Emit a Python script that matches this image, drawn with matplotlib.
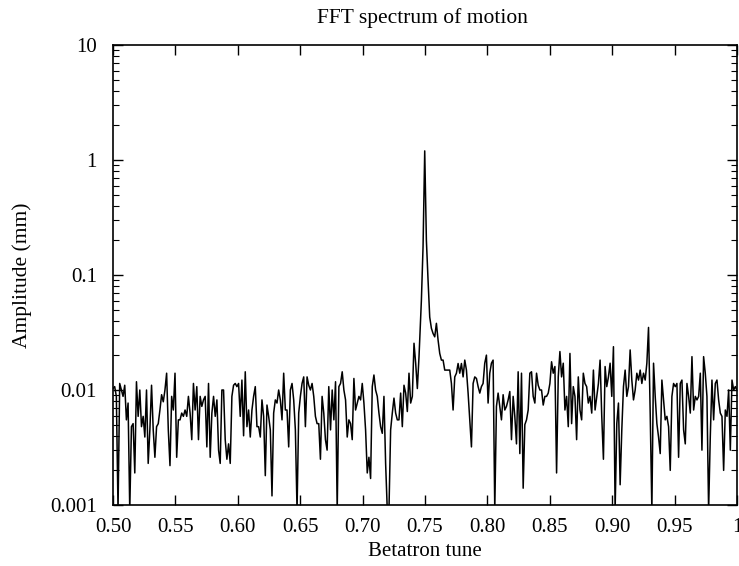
import numpy as np
import matplotlib
matplotlib.use("Agg")
import matplotlib.pyplot as plt
from matplotlib.ticker import FixedLocator, LogLocator, NullFormatter

plt.rcParams['font.family'] = ['Liberation Serif', 'DejaVu Serif']

# Spectrum in seven consecutive stretches of tune.
# (start tune, end tune) of each stretch; values are evenly spaced inside it.
seg_bounds = [(0.5000, 0.5846), (0.5859, 0.6729), (0.6743, 0.7452), (0.7471, 0.7939),
              (0.7952, 0.8822), (0.8836, 0.9706), (0.9719, 1.0000)]

amp_1 = [0.0103, 0.0107, 0.0088, 0.0009, 0.0114, 0.0100, 0.0088, 0.0110, 0.0055, 0.0077,
         0.0009, 0.0048, 0.0051, 0.0019, 0.0118, 0.0059, 0.0100, 0.0048, 0.0059, 0.0039,
         0.0100, 0.0023, 0.0045, 0.0110, 0.0045, 0.0026, 0.0048, 0.0051, 0.0067, 0.0091,
         0.0079, 0.0100, 0.0140, 0.0045, 0.0022, 0.0088, 0.0067, 0.0140, 0.0026, 0.0055,
         0.0055, 0.0063, 0.0059, 0.0067, 0.0059, 0.0088, 0.0063, 0.0037, 0.0114, 0.0067,
         0.0107, 0.0037, 0.0088, 0.0072, 0.0082, 0.0088, 0.0032, 0.0114, 0.0026, 0.0063,
         0.0088, 0.0059, 0.0082, 0.0030]
amp_2 = [0.0023, 0.0100, 0.0100, 0.0037, 0.0025, 0.0034, 0.0023, 0.0088, 0.0110, 0.0114,
         0.0107, 0.0114, 0.0059, 0.0122, 0.0040, 0.0144, 0.0048, 0.0067, 0.0039, 0.0067,
         0.0088, 0.0107, 0.0048, 0.0048, 0.0039, 0.0082, 0.0059, 0.0018, 0.0074, 0.0059,
         0.0045, 0.0012, 0.0063, 0.0082, 0.0077, 0.0100, 0.0082, 0.0055, 0.0140, 0.0067,
         0.0067, 0.0032, 0.0100, 0.0114, 0.0082, 0.0045, 0.0009, 0.0063, 0.0088, 0.0114,
         0.0130, 0.0048, 0.0130, 0.0110, 0.0100, 0.0114, 0.0088, 0.0059, 0.0051, 0.0051,
         0.0025, 0.0088, 0.0063, 0.0037, 0.0030, 0.0107]
amp_3 = [0.0045, 0.0100, 0.0055, 0.0118, 0.0009, 0.0107, 0.0114, 0.0144, 0.0100, 0.0082,
         0.0039, 0.0055, 0.0051, 0.0037, 0.0126, 0.0067, 0.0077, 0.0088, 0.0082, 0.0114,
         0.0077, 0.0045, 0.0019, 0.0026, 0.0017, 0.0107, 0.0135, 0.0100, 0.0088, 0.0063,
         0.0048, 0.0042, 0.0088, 0.0023, 0.0009, 0.0009, 0.0045, 0.0063, 0.0085, 0.0063,
         0.0055, 0.0055, 0.0094, 0.0048, 0.0110, 0.0094, 0.0065, 0.0140, 0.0077, 0.0088,
         0.0255, 0.0171, 0.0103, 0.0195]
amp_4 = [0.060, 0.176, 1.20, 0.200, 0.090, 0.043, 0.0344, 0.031, 0.029, 0.038,
         0.0272, 0.0208, 0.0182, 0.0182, 0.0149, 0.0149, 0.0149, 0.0149, 0.0114, 0.0067,
         0.0130, 0.0140, 0.0170, 0.0140, 0.0170, 0.0130, 0.0182, 0.0149, 0.0094, 0.0055,
         0.0032, 0.0114, 0.0130, 0.0126, 0.0107, 0.0094]
amp_5 = [0.0107, 0.0114, 0.0171, 0.0201, 0.0077, 0.0140, 0.0171, 0.0182, 0.0009, 0.0072,
         0.0094, 0.0072, 0.0055, 0.0091, 0.0067, 0.0072, 0.0082, 0.0097, 0.0037, 0.0088,
         0.0059, 0.0034, 0.0144, 0.0028, 0.0140, 0.0014, 0.0050, 0.0055, 0.0067, 0.0140,
         0.0144, 0.0088, 0.0077, 0.0140, 0.0110, 0.0100, 0.0100, 0.0074, 0.0088, 0.0088,
         0.0094, 0.0114, 0.0176, 0.0140, 0.0160, 0.0019, 0.0130, 0.0216, 0.0130, 0.0171,
         0.0067, 0.0088, 0.0048, 0.0208, 0.0051, 0.0107, 0.0088, 0.0037, 0.0130, 0.0067,
         0.0055, 0.0140, 0.0114, 0.0107, 0.0077, 0.0088]
amp_6 = [0.0063, 0.0149, 0.0067, 0.0088, 0.0114, 0.0182, 0.0059, 0.0025, 0.0160, 0.0107,
         0.0130, 0.0171, 0.0088, 0.0238, 0.0009, 0.0051, 0.0077, 0.0015, 0.0045, 0.0107,
         0.0149, 0.0088, 0.0107, 0.0223, 0.0122, 0.0082, 0.0100, 0.0140, 0.0122, 0.0149,
         0.0114, 0.0140, 0.0122, 0.0171, 0.0350, 0.0063, 0.0009, 0.0171, 0.0088, 0.0051,
         0.0039, 0.0028, 0.0122, 0.0082, 0.0055, 0.0059, 0.0048, 0.0020, 0.0088, 0.0114,
         0.0107, 0.0114, 0.0026, 0.0114, 0.0122, 0.0045, 0.0034, 0.0114, 0.0088, 0.0063,
         0.0195, 0.0067, 0.0088, 0.0082, 0.0088, 0.0140]
amp_7 = [0.0030, 0.0195, 0.0140, 0.0088, 0.0009, 0.0039, 0.0122, 0.0055, 0.0114, 0.0122,
         0.0082, 0.0063, 0.0059, 0.0020, 0.0067, 0.0059, 0.0100, 0.0030, 0.0122, 0.0100,
         0.0107, 0.0100]

x_ticks = [0.50, 0.55, 0.60, 0.65, 0.70, 0.75, 0.80, 0.85, 0.90, 0.95, 1.0]
x_tick_labels = ["0.50", "0.55", "0.60", "0.65", "0.70", "0.75", "0.80", "0.85", "0.90", "0.95", "1"]
y_ticks = [0.001, 0.01, 0.1, 1, 10]
y_tick_labels = ["0.001", "0.01", "0.1", "1", "10"]

segments = [amp_1, amp_2, amp_3, amp_4, amp_5, amp_6, amp_7]
tune = np.concatenate([np.linspace(a, b, len(v)) for (a, b), v in zip(seg_bounds, segments)])
amplitude = np.concatenate([np.array(v) for v in segments])

fig = plt.figure(figsize=(7.39, 5.66), dpi=100)
ax = fig.add_axes([113/739, 1 - 505/566, (737 - 113)/739, (505 - 45)/566])

ax.plot(tune, amplitude, color='black', linewidth=1.1)
ax.set_yscale('log')
ax.set_xlim(0.5, 1.0)
ax.set_ylim(0.001, 10)

ax.xaxis.set_major_locator(FixedLocator(x_ticks))
ax.set_xticklabels(x_tick_labels)
ax.yaxis.set_major_locator(FixedLocator(y_ticks))
ax.set_yticklabels(y_tick_labels)
ax.yaxis.set_minor_locator(LogLocator(base=10, subs=np.arange(2, 10)))
ax.yaxis.set_minor_formatter(NullFormatter())

ax.tick_params(axis='both', which='major', direction='in', length=7, width=1.0,
               top=True, right=True, labelsize=15)
ax.tick_params(axis='x', which='major', pad=9)
ax.tick_params(axis='y', which='major', pad=11.5)
ax.tick_params(axis='y', which='minor', direction='in', length=4, width=0.8,
               left=True, right=True)
for s in ax.spines.values():
    s.set_linewidth(1.2)

ax.set_xlabel("Betatron tune", fontsize=15, labelpad=4)
ax.set_ylabel("Amplitude (mm)", fontsize=15.5, labelpad=13)
fig.text(422/739, 1 - 23/566, "FFT spectrum of motion", ha='center', va='baseline', fontsize=15.5)

fig.savefig("out.png", dpi=100)
